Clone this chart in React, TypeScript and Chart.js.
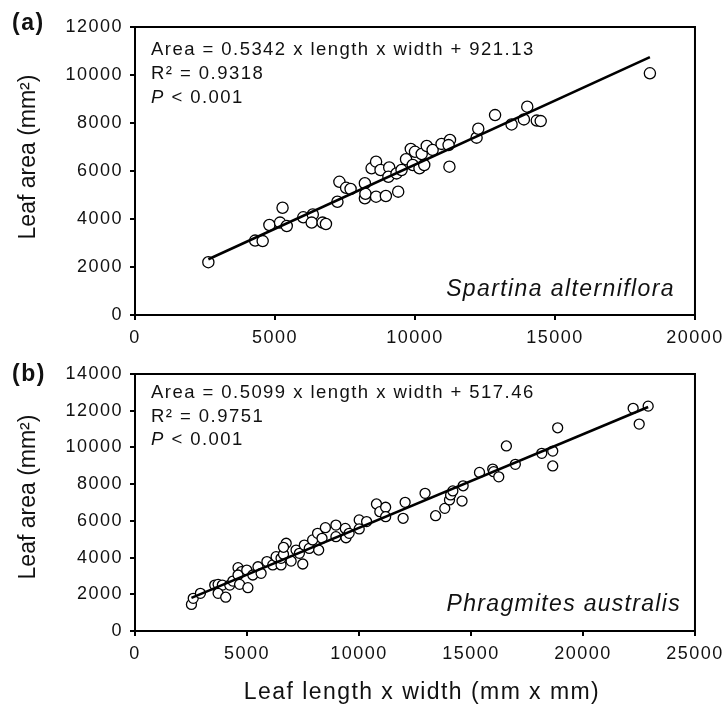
import React, { useEffect, useRef } from 'react';
import { Chart, registerables } from 'chart.js';
Chart.register(...registerables);

const FONT = "'Liberation Sans', Arial, Helvetica, sans-serif";

// ---- Panel (a): Spartina alterniflora ----
const spartinaX = [2620, 4290, 4560, 4800, 5180, 5270, 5420, 6010, 6350, 6310, 6700, 6820, 7230, 7300, 7540, 7700, 8210, 8210, 8230, 8610, 8960, 9400, 8450, 8610, 8770, 9080, 9050, 9340, 9520, 9680, 9850, 10000, 9920, 10160, 10240, 10420, 10330, 10630, 10950, 11250, 11200, 11230, 12200, 12260, 12860, 13450, 13890, 14010, 14350, 14490, 18390];
const spartinaY = [2200, 3100, 3080, 3750, 3850, 4470, 3710, 4070, 4190, 3850, 3850, 3790, 4720, 5550, 5300, 5250, 5490, 4860, 5050, 4930, 4960, 5140, 6110, 6390, 6040, 6150, 5760, 5900, 6040, 6490, 6920, 6800, 6250, 6110, 6710, 7040, 6250, 6880, 7130, 7290, 7080, 6180, 7390, 7760, 8330, 7940, 8150, 8680, 8100, 8080, 10070];
const spartinaSlope = 0.5342;
const spartinaIntercept = 921.13;
const spartinaEq = 'Area = 0.5342 x length x width + 921.13';
const spartinaR2 = 'R\u00B2 = 0.9318';
const spartinaName = 'Spartina alterniflora';

// ---- Panel (b): Phragmites australis ----
const phragX = [2520, 2600, 2920, 3560, 3710, 3900, 3710, 4050, 4230, 4370, 4600, 4750, 4600, 4670, 4990, 5040, 5260, 5490, 5630, 5890, 6150, 6300, 6520, 6520, 6630, 6750, 6630, 6970, 7190, 7340, 7490, 7560, 7780, 7930, 8200, 8150, 8350, 8500, 8970, 8970, 9390, 9420, 9560, 10010, 10010, 10340, 10780, 10930, 11190, 11190, 11970, 12060, 12950, 13420, 13830, 14040, 14090, 14190, 14600, 14650, 15380, 15970, 16010, 16240, 16580, 16980, 18160, 18650, 18650, 18870, 22240, 22510, 22910];
const phragY = [1450, 1780, 2050, 2500, 2540, 2500, 2050, 1840, 2500, 2720, 3450, 3230, 3050, 2540, 3320, 2360, 3050, 3500, 3140, 3780, 3600, 4050, 3600, 3960, 4180, 4780, 4560, 3810, 4410, 4230, 3650, 4680, 4500, 4960, 4410, 5320, 5050, 5630, 5770, 5140, 5590, 5080, 5320, 6050, 5560, 5960, 6920, 6500, 6740, 6230, 6140, 7010, 7500, 6280, 6680, 7140, 7410, 7630, 7080, 7910, 8640, 8820, 8680, 8400, 10080, 9080, 9680, 9800, 8990, 11070, 12130, 11270, 12250];
const phragSlope = 0.5099;
const phragIntercept = 517.46;
const phragEq = 'Area = 0.5099 x length x width + 517.46';
const phragR2 = 'R\u00B2 = 0.9751';
const phragName = 'Phragmites australis';

const pValueText = ' < 0.001';
const yTitle = 'Leaf area (mm\u00B2)';
const xTitle = 'Leaf length x width (mm x mm)';

type Panel = {
  label: string;
  xs: number[];
  ys: number[];
  slope: number;
  intercept: number;
  eq: string;
  r2: string;
  name: string;
  xMax: number;
  yMax: number;
  radius: number;
  canvasTop: number;
  canvasH: number;
  padTop: number;
  xAxisH: number;
  eqDy: number[];
  nameDx: number;
  nameDy: number;
  nameLs: number;
  labelY: number;
  yTitleY: number;
  showXTitle: boolean;
};

const panels: Panel[] = [
  {
    label: '(a)', xs: spartinaX, ys: spartinaY, slope: spartinaSlope, intercept: spartinaIntercept,
    eq: spartinaEq, r2: spartinaR2, name: spartinaName, xMax: 20000, yMax: 12000, radius: 5.6,
    canvasTop: 0, canvasH: 352, padTop: 27, xAxisH: 37, eqDy: [23, 47, 71], nameDx: 20, nameDy: 25, nameLs: 1.4,
    labelY: 24, yTitleY: 157, showXTitle: false,
  },
  {
    label: '(b)', xs: phragX, ys: phragY, slope: phragSlope, intercept: phragIntercept,
    eq: phragEq, r2: phragR2, name: phragName, xMax: 25000, yMax: 14000, radius: 5,
    canvasTop: 330, canvasH: 374, padTop: 44, xAxisH: 73, eqDy: [19, 43, 66], nameDx: 14, nameDy: 26, nameLs: 1.3,
    labelY: 45, yTitleY: 167, showXTitle: true,
  },
];

function spaced(ctx: CanvasRenderingContext2D, ls: number) {
  (ctx as any).letterSpacing = ls + 'px';
}

const annotPlugin = {
  id: 'annot',
  beforeDraw(chart: any) {
    spaced(chart.ctx, 1.5);
  },
  afterDraw(chart: any, _args: any, opts: any) {
    const p: Panel = opts.panel;
    const ctx: CanvasRenderingContext2D = chart.ctx;
    const ca = chart.chartArea;
    ctx.save();
    ctx.strokeStyle = '#000';
    ctx.lineWidth = 2;
    ctx.strokeRect(ca.left, ca.top, ca.right - ca.left, ca.bottom - ca.top);
    ctx.fillStyle = '#111';
    ctx.textBaseline = 'middle';

    // panel label
    ctx.font = `bold 23px ${FONT}`;
    spaced(ctx, 1.5);
    ctx.textAlign = 'left';
    ctx.fillText(p.label, 12, p.labelY);

    // equation block
    const ex = ca.left + 16;
    ctx.font = `18.5px ${FONT}`;
    spaced(ctx, 1.45);
    ctx.fillText(p.eq, ex, ca.top + p.eqDy[0]);
    ctx.fillText(p.r2, ex, ca.top + p.eqDy[1]);
    ctx.font = `italic 18.5px ${FONT}`;
    ctx.fillText('P', ex, ca.top + p.eqDy[2]);
    const pw = ctx.measureText('P').width;
    ctx.font = `18.5px ${FONT}`;
    ctx.fillText(pValueText, ex + pw, ca.top + p.eqDy[2]);

    // species name
    ctx.font = `italic 23px ${FONT}`;
    spaced(ctx, p.nameLs);
    ctx.textAlign = 'right';
    ctx.fillText(p.name, ca.right - p.nameDx, ca.bottom - p.nameDy);

    // y title
    ctx.font = `23px ${FONT}`;
    spaced(ctx, 0);
    ctx.textAlign = 'center';
    ctx.save();
    ctx.translate(29, p.yTitleY);
    ctx.rotate(-Math.PI / 2);
    ctx.fillText(yTitle, 0, 0);
    ctx.restore();

    // x title
    if (p.showXTitle) {
      ctx.font = `23px ${FONT}`;
      spaced(ctx, 1.45);
      ctx.textAlign = 'center';
      ctx.fillText(xTitle, (ca.left + ca.right) / 2 + 7, ca.bottom + 62);
    }
    ctx.restore();
  },
};

function makeConfig(p: Panel): any {
  const pts = p.xs.map((x, i) => ({ x, y: p.ys[i] }));
  const x0 = Math.min(...p.xs);
  const x1 = Math.max(...p.xs);
  const fit = [
    { x: x0, y: p.slope * x0 + p.intercept },
    { x: x1, y: p.slope * x1 + p.intercept },
  ];
  const tickFont = { family: FONT, size: 18 };
  return {
    type: 'scatter',
    data: {
      datasets: [
        {
          data: fit, showLine: true, pointRadius: 0, borderColor: '#000', borderWidth: 2.6, order: 0,
        },
        {
          data: pts, showLine: false, pointRadius: p.radius, pointBorderWidth: 1.3,
          pointBackgroundColor: '#fff', pointBorderColor: '#000', order: 1,
        },
      ],
    },
    options: {
      responsive: false,
      animation: false,
      layout: { padding: { top: p.padTop, right: 30, left: 0, bottom: 0 } },
      plugins: { legend: { display: false }, tooltip: { enabled: false }, annot: { panel: p } },
      scales: {
        x: {
          type: 'linear', min: 0, max: p.xMax,
          ticks: { stepSize: 5000, color: '#111', font: tickFont, padding: 7, maxRotation: 0, autoSkip: false, callback: (v: any) => String(v) },
          grid: { drawOnChartArea: false, drawTicks: true, tickLength: 5, color: '#000', lineWidth: 2 },
          border: { display: true, color: '#000', width: 2 },
          afterFit: (s: any) => { s.height = p.xAxisH; },
        },
        y: {
          type: 'linear', min: 0, max: p.yMax,
          ticks: { stepSize: 2000, color: '#111', font: tickFont, padding: 7, autoSkip: false, callback: (v: any) => String(v) },
          grid: { drawOnChartArea: false, drawTicks: true, tickLength: 5, color: '#000', lineWidth: 2 },
          border: { display: true, color: '#000', width: 2 },
          afterFit: (s: any) => { s.width = 135; },
        },
      },
    },
    plugins: [annotPlugin],
  };
}

function PanelChart({ p }: { p: Panel }) {
  const ref = useRef<HTMLCanvasElement | null>(null);
  useEffect(() => {
    if (!ref.current) return;
    const chart = new Chart(ref.current, makeConfig(p));
    return () => chart.destroy();
  }, [p]);
  return (
    <canvas
      ref={ref}
      width={727}
      height={p.canvasH}
      style={{ position: 'absolute', left: 0, top: p.canvasTop, width: 727, height: p.canvasH, display: 'block' }}
    />
  );
}

export default function App() {
  return (
    <div style={{ position: 'absolute', left: 0, top: 0, width: 727, height: 704, background: '#fff' }}>
      {panels.map((p) => (
        <PanelChart key={p.label} p={p} />
      ))}
    </div>
  );
}
